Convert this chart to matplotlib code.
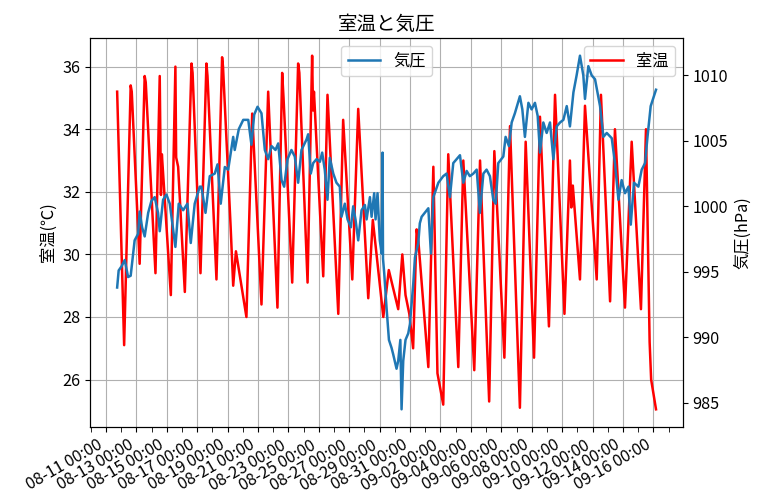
import matplotlib
matplotlib.use("Agg")
import matplotlib.pyplot as plt
import matplotlib.dates as mdates
from matplotlib.ticker import FixedLocator
import pandas as pd

plt.rcParams["font.family"] = ["Noto Sans CJK JP", "DejaVu Sans"]
plt.rcParams["font.size"] = 11.7

start = pd.Timestamp("2023-08-11 00:00")

# room temperature: elapsed days since start, value in deg C
temp_day = [0.74, 1.20, 1.63, 1.70, 2.22, 2.55, 2.62, 3.26, 3.54, 3.62, 3.68, 3.80,
            4.27, 4.57, 4.62, 4.75, 5.19, 5.63, 5.70, 6.22, 6.61, 6.68, 7.27, 7.64,
            7.70, 8.20, 8.37, 8.55, 9.24, 9.62, 10.23, 10.67, 11.28, 11.59, 11.68,
            12.25, 12.64, 12.72, 13.26, 13.56, 13.62, 13.68, 14.29, 14.57, 15.28,
            15.60, 16.20, 16.59, 17.25, 17.55, 18.24, 18.60, 19.22, 19.49, 19.70,
            19.95, 20.20, 20.43, 20.55, 21.20, 21.53, 21.80, 22.18, 22.51, 23.17,
            23.50, 24.22, 24.60, 25.20, 25.54, 26.20, 26.57, 27.22, 27.60, 28.15,
            28.54, 29.13, 29.53, 30.15, 30.51, 30.60, 30.70, 31.17, 31.50, 32.27,
            32.55, 33.15, 33.47, 34.13, 34.57, 35.18, 35.51, 35.75, 35.85, 36.17]
temp_c = [35.2, 27.1, 35.4, 35.2, 29.7, 35.7, 35.5, 29.4, 35.7, 31.9, 33.2, 32.3,
          28.7, 36.0, 33.1, 32.8, 28.8, 36.1, 35.8, 29.4, 36.1, 35.7, 29.2, 36.3,
          36.0, 30.9, 29.0, 30.1, 28.0, 34.5, 28.4, 35.2, 28.3, 35.8, 35.0,
          29.1, 36.1, 35.8, 29.1, 36.35, 34.6, 35.2, 29.3, 35.1, 28.1,
          34.3, 29.2, 34.65, 28.6, 31.1, 28.0, 29.5, 28.25, 30.0, 28.7,
          28.1, 27.0, 30.8, 30.4, 26.4, 32.8, 26.2, 25.2, 33.2, 26.4,
          33.0, 26.3, 33.0, 25.3, 33.3, 26.7, 34.1, 25.1, 33.6, 26.7,
          34.4, 27.7, 35.1, 28.1, 33.0, 31.5, 32.2, 29.2, 34.75, 29.2,
          35.1, 28.5, 34.0, 28.3, 33.6, 28.25, 34.0, 27.2, 26.0, 25.05]

# air pressure: elapsed days since start, value in hPa
pres_day = [0.74, 0.84, 1.02, 1.24, 1.46, 1.63, 1.89, 2.12, 2.22, 2.38, 2.55, 2.78,
            2.99, 3.21, 3.43, 3.54, 3.76, 3.98, 4.20, 4.42, 4.57, 4.79, 5.08, 5.36,
            5.58, 5.84, 6.17, 6.28, 6.55, 6.83, 7.16, 7.34, 7.55, 7.82, 8.04, 8.37,
            8.47, 8.74, 9.03, 9.36, 9.57, 9.75, 9.97, 10.23, 10.45, 10.67, 10.89,
            11.15, 11.33, 11.55, 11.72, 11.94, 12.20, 12.42, 12.64, 12.86, 13.19,
            13.30, 13.47, 13.63, 13.85, 14.07, 14.22, 14.39, 14.57, 14.72, 14.95,
            15.16, 15.38, 15.49, 15.71, 15.89, 16.11, 16.26, 16.41, 16.59, 16.81,
            17.03, 17.14, 17.36, 17.47, 17.64, 17.73, 17.86, 18.01, 18.13, 18.19,
            18.22, 18.30, 18.45, 18.61, 18.78, 18.89, 19.11, 19.22, 19.36, 19.44,
            19.55, 19.70, 19.88, 19.99, 20.21, 20.32, 20.54, 20.64, 20.76, 21.20,
            21.37, 21.53, 21.86, 22.18, 22.40, 22.62, 22.84, 23.06, 23.28, 23.50,
            23.72, 23.93, 24.16, 24.38, 24.59, 24.82, 25.03, 25.25, 25.47, 25.63,
            25.80, 26.13, 26.28, 26.50, 26.68, 26.89, 27.22, 27.38, 27.55, 27.78,
            27.99, 28.21, 28.39, 28.54, 28.76, 28.98, 29.20, 29.42, 29.64, 29.86,
            30.08, 30.30, 30.51, 30.74, 30.95, 31.17, 31.39, 31.50, 31.72, 31.94,
            32.16, 32.49, 32.71, 32.93, 33.26, 33.47, 33.70, 33.91, 34.13, 34.36,
            34.51, 34.72, 35.01, 35.23, 35.45, 35.61, 35.82, 36.17]
pres_hpa = [993.8, 995.1, 995.4, 995.9, 994.6, 994.7, 997.4, 997.9, 999.6, 998.4, 997.7, 999.5,
            1000.4, 1000.7, 999.5, 998.1, 1000.5, 1000.9, 1000.2, 998.2, 996.9, 1000.2, 999.7, 1000.2,
            997.2, 1000.2, 1001.5, 1001.5, 999.5, 1002.3, 1002.5, 1003.2, 1000.2, 1003.0, 1002.8, 1005.3,
            1004.3, 1005.9, 1006.6, 1006.6, 1004.7, 1007.0, 1007.6, 1007.1, 1004.3, 1003.6, 1004.6,
            1004.3, 1004.8, 1002.0, 1001.5, 1003.6, 1004.3, 1003.8, 1001.8, 1004.3, 1005.1,
            1005.5, 1002.5, 1003.3, 1003.6, 1003.4, 1004.1, 1002.8, 1000.5, 1003.7, 1002.5,
            1001.8, 1001.5, 999.2, 1000.2, 999.0, 998.4, 1000.0, 999.0, 997.4, 999.7,
            1000.1, 999.0, 1000.7, 999.2, 1001.0, 999.0, 1001.0, 997.4, 996.4, 1004.1,
            996.0, 994.9, 992.3, 989.8, 989.2, 988.7, 987.6, 988.2, 989.8, 984.5,
            988.2, 989.8, 990.3, 991.0, 994.1, 996.1, 997.2, 998.7, 999.2, 999.85,
            996.4, 1000.7, 1001.8, 1002.3, 1002.5, 1000.7, 1003.3, 1003.6, 1003.9, 1001.8,
            1002.7, 1002.3, 1002.5, 1002.8, 999.5, 1002.5, 1002.8, 1002.3, 1000.5, 1000.2,
            1003.3, 1003.8, 1005.3, 1004.6, 1006.4, 1007.1, 1008.4, 1007.4, 1005.3, 1007.9,
            1007.4, 1007.9, 1006.9, 1004.1, 1006.4, 1005.6, 1006.4, 1003.6, 1006.1, 1006.4,
            1006.6, 1007.65, 1006.1, 1008.7, 1010.0, 1011.5, 1010.0, 1008.2, 1010.7, 1010.0,
            1009.7, 1007.65, 1005.3, 1005.6, 1005.2, 1003.3, 1000.5, 1002.0, 1001.0, 1001.5,
            998.6, 1001.8, 1001.5, 1002.8, 1003.3, 1005.3, 1007.65, 1008.9]

tick_dates = pd.date_range("2023-08-11", "2023-09-16", freq="2D")

temp_t = start + pd.to_timedelta(temp_day, unit="D")
pres_t = start + pd.to_timedelta(pres_day, unit="D")

fig = plt.figure(figsize=(7.58, 5.0), dpi=100)
ax1 = fig.add_axes([0.119, 0.146, 0.782, 0.778])
ax1.plot(temp_t, temp_c, color="red", lw=1.8, label="室温")
ax1.set_ylabel("室温(℃)")
ax1.grid(True)
ax1.legend(loc="upper right")
ax1.set_title("室温と気圧")

ax2 = ax1.twinx()
ax2.plot(pres_t, pres_hpa, color="tab:blue", lw=1.8, label="気圧")
ax2.set_ylabel("気圧(hPa)")
ax2.legend(loc="upper center")

ax1.xaxis.set_major_locator(FixedLocator(mdates.date2num(tick_dates)))
ax1.xaxis.set_major_formatter(mdates.DateFormatter("%m-%d %H:%M"))
ax1.xaxis.set_minor_locator(mdates.DayLocator())
ax1.tick_params(axis="x", which="minor", length=3.5)
for lab in ax1.get_xticklabels():
    lab.set_rotation(30)
    lab.set_ha("right")

fig.savefig("out.png", dpi=100)
